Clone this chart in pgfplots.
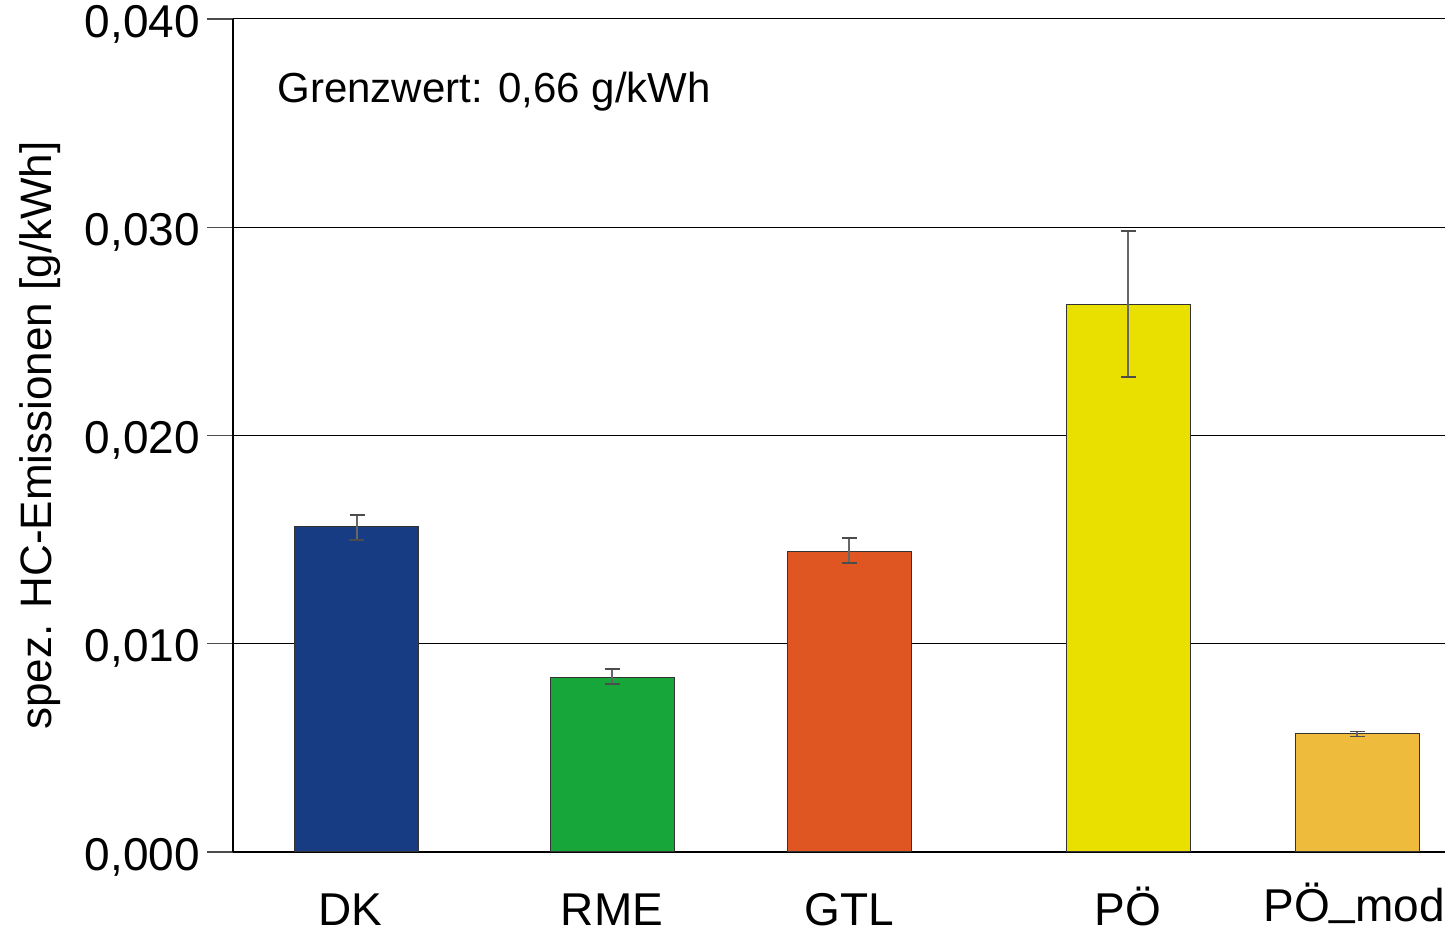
\documentclass[border=0pt]{standalone}
\usepackage{pgfplots}
\pgfplotsset{compat=1.18}
\usepackage{fontspec}
\setmainfont{Liberation Sans}
\definecolor{cDK}{HTML}{173C84}
\definecolor{cRME}{HTML}{17A63A}
\definecolor{cGTL}{HTML}{E05622}
\definecolor{cPO}{HTML}{EAE000}
\definecolor{cPOm}{HTML}{EFBB3C}
\begin{document}
\begin{tikzpicture}
\begin{axis}[
  scale only axis, width=606pt, height=416.5pt,
  xmin=233, xmax=1445, ymin=0, ymax=0.04,
  axis x line*=bottom, axis y line*=left,
  axis line style={line width=1pt, black},
  xtick={357,612,849,1128,1357},
  xticklabels={},
  xtick style={draw=none},
  extra x ticks={233,484,737,973,1255},
  extra x tick labels={},
  extra x tick style={major tick length=7pt, tick style={draw=black!70, line width=0.6pt}, grid=none},
  ytick={0,0.01,0.02,0.03,0.04},
  ymajorgrids, grid style={black, line width=0.5pt},
  tick align=outside, major tick length=13pt,
  ytick style={black!70, line width=0.6pt},
  scaled y ticks=false,
  yticklabel style={yshift=-2.5pt, /pgf/number format/.cd, fixed, fixed zerofill, precision=3, use comma, assume math mode=true},
  tick label style={font=\fontsize{23}{27}\selectfont},
  ylabel={spez. HC-Emissionen [g/kWh]},
  ylabel style={font=\fontsize{22}{26}\selectfont, at={(axis description cs:-0.159,0.5)}, anchor=center},
  ybar, bar width=124, bar shift=0pt,
  every axis plot/.append style={draw=black!80, line width=0.5pt},
  error bars/y dir=both, error bars/y explicit,
  error bars/error bar style={draw=black!60, line width=0.6pt},
  error bars/error mark options={draw=black!70, line width=0.6pt, mark size=3.75pt, rotate=90},
  clip=false,
]
\addplot[fill=cDK] coordinates {(357,0.01561) += (0,0.00057) -= (0,0.00063)};
\addplot[fill=cRME] coordinates {(612,0.00840) += (0,0.00039) -= (0,0.00033)};
\addplot[fill=cGTL] coordinates {(849,0.01445) += (0,0.00063) -= (0,0.00057)};
\addplot[fill=cPO] coordinates {(1128,0.02631) += (0,0.00351) -= (0,0.00350)};
\addplot[fill=cPOm] coordinates {(1357,0.00567) += (0,0.00012) -= (0,0.00012)};
\coordinate (o) at (axis cs:233,0);
\node[anchor=base west, inner sep=0pt, font=\fontsize{21}{25}\selectfont] at (axis cs:277,0.03597) {Grenzwert: 0,66 g/kWh};
\tikzset{catlab/.style={anchor=base, inner sep=0pt, text depth=0pt, font=\fontsize{23}{27}\selectfont}}
\node[catlab] at (axis cs:350,0) [yshift=-36.5pt] {DK};
\node[catlab] at (axis cs:612,0) [yshift=-36.5pt] {RME};
\node[catlab] at (axis cs:849,0) [yshift=-36.5pt] {GTL};
\node[catlab] at (axis cs:1128,0) [yshift=-36.5pt] {PÖ};
\node[catlab, anchor=base west] at (axis cs:1263,0) [yshift=-34.5pt] {PÖ\raisebox{0.14em}{\_}mod.};
\end{axis}
\pgfresetboundingbox
\path (o) ++(-116.5pt,-39.5pt) rectangle ++(722.5pt,465.5pt);
\end{tikzpicture}
\end{document}
